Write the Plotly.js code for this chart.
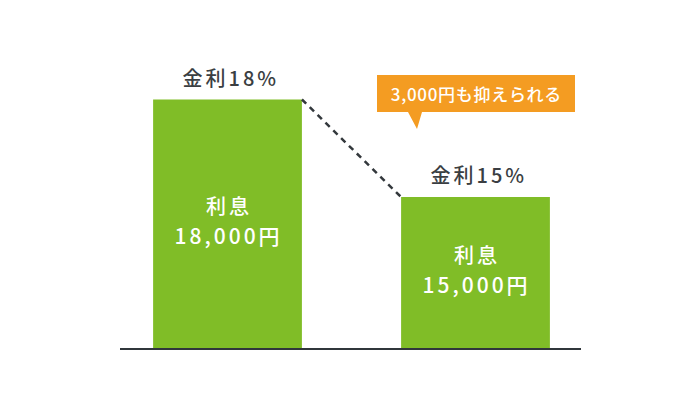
<!DOCTYPE html>
<html>
<head>
<meta charset="utf-8">
<script src="https://cdn.plot.ly/plotly-3.0.1.min.js"></script>
<style>
  html, body { margin: 0; padding: 0; background: #fff; }
</style>
</head>
<body>
<div id="chart" style="width:700px;height:415px;"></div>
<script>
// data
var rates    = [18, 15];          // 金利 (%)
var interest = [18000, 15000];    // 利息 (円)
var innerLabel = '利息';

// look
var green = '#80bd27', orange = '#f49c22', ink = '#3a3e42';
var font = '"Noto Sans CJK JP", "Noto Sans", sans-serif';
var weight = 500;
var barWidth = 0.6;
var W = 700, H = 415, ml = 120, mr = 119, mt = 40, mb = 67;
var plotW = W - ml - mr, plotH = H - mt - mb;
var yRange = [10354, 19831];

// pixel -> paper helpers for the callout
function px(x) { return (x - ml) / plotW; }
function py(y) { return (H - mb - y) / plotH; }

var xs = interest.map(function (v, i) { return i; });
var yen = function (v) { return v.toLocaleString('en-US') + '円'; };

var bars = {
    type: 'bar',
    x: xs,
    y: interest,
    width: barWidth,
    marker: { color: green },
    hoverinfo: 'none'
};

// dashed line from the top-right of bar 1 to the top-left of bar 2
var link = {
    type: 'scatter',
    mode: 'lines',
    x: [xs[0] + barWidth / 2, xs[1] - barWidth / 2],
    y: interest,
    line: { color: '#33383c', width: 2.5, dash: '6px,5px' },
    hoverinfo: 'none'
};

var annotations = [];
interest.forEach(function (v, i) {
    annotations.push({
        x: xs[i], y: v, xref: 'x', yref: 'y',
        text: '金利' + rates[i] + '%',
        showarrow: false, yanchor: 'bottom', yshift: 6, xshift: 3,
        font: { family: font, size: 20, color: ink, weight: weight }
    });
    var mid = (v + yRange[0]) / 2;
    annotations.push({
        x: xs[i], y: mid, xref: 'x', yref: 'y',
        text: innerLabel,
        showarrow: false, yshift: 18, xshift: 1,
        font: { family: font, size: 20, color: '#ffffff', weight: weight }
    });
    annotations.push({
        x: xs[i], y: mid, xref: 'x', yref: 'y',
        text: yen(v),
        showarrow: false, yshift: -11, xshift: 1,
        font: { family: font, size: 21, color: '#ffffff', weight: weight }
    });
});

// callout with the saving
annotations.push({
    x: px(476), y: py(93.5), xref: 'paper', yref: 'paper',
    xanchor: 'center', yanchor: 'middle', xshift: 0,
    text: yen(interest[0] - interest[1]) + 'も抑えられる',
    showarrow: false,
    font: { family: font, size: 17, color: '#ffffff', weight: weight }
});

var callout = 'M' + px(377) + ',' + py(75) +
    ' L' + px(575) + ',' + py(75) +
    ' L' + px(575) + ',' + py(112) +
    ' L' + px(422) + ',' + py(112) +
    ' L' + px(417) + ',' + py(129) +
    ' L' + px(408) + ',' + py(112) +
    ' L' + px(377) + ',' + py(112) + ' Z';

var layout = {
    width: W, height: H,
    margin: { l: ml, r: mr, t: mt, b: mb, pad: 0 },
    paper_bgcolor: '#ffffff', plot_bgcolor: '#ffffff',
    showlegend: false,
    xaxis: {
        range: [-0.4335, 1.4254],
        showticklabels: false, ticks: '', showgrid: false, zeroline: false,
        showline: true, linecolor: '#30363b', linewidth: 2, fixedrange: true
    },
    yaxis: { range: yRange, visible: false, fixedrange: true },
    shapes: [{
        type: 'path', xref: 'paper', yref: 'paper', path: callout,
        fillcolor: orange, line: { width: 0 }, layer: 'above'
    }],
    annotations: annotations
};

Plotly.newPlot('chart', [bars, link], layout, { staticPlot: true }).then(function () {
    // a little letter spacing on the labels, as in the picture
    var texts = document.querySelectorAll('.annotation-text');
    for (var i = 0; i < texts.length; i++) {
        texts[i].style.letterSpacing = i < texts.length - 1 ? '3px' : '0.7px';
    }
});
</script>
</body>
</html>
